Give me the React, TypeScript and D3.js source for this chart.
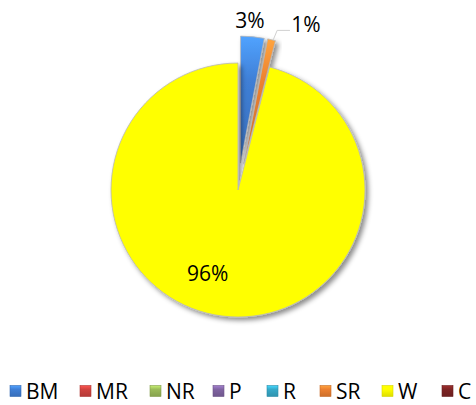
import * as d3 from "d3";
import React, { useRef, useEffect } from "react";

const categories = ["BM", "MR", "NR", "P", "R", "SR", "W", "C"];
const values = [3, 0, 0, 0, 0, 1, 96, 0];
const labels = ["3%", "", "", "", "", "1%", "96%", ""];
const colors = ["#3f7fd6", "#d0433f", "#9bbb59", "#8064a2", "#36a9c9", "#ec8030", "#ffff00", "#7d2424"];

// legend layout (x of each swatch), from the picture
const legendX = [10, 80, 150, 213, 267, 320, 382, 442];

function App() {
    const svgRef = useRef<SVGSVGElement>(null);
    const width = 476;
    const height = 405;
    const cx = 238; // pie centre
    const cy = 190;
    const radius = 127;
    const explode = 27; // pulled-out slices

    useEffect(() => {
        document.body.style.margin = "0";

        const svg = d3.select(svgRef.current)
            .attr("width", width)
            .attr("height", height)
            .attr("viewBox", [0, 0, width, height] as any);

        svg.selectAll("*").remove();

        const defs = svg.append("defs");

        const shadow = defs.append("filter")
            .attr("id", "shadow")
            .attr("x", "-20%").attr("y", "-20%")
            .attr("width", "140%").attr("height", "140%");
        shadow.append("feDropShadow")
            .attr("dx", 3).attr("dy", 3)
            .attr("stdDeviation", 2.5)
            .attr("flood-color", "#000")
            .attr("flood-opacity", 0.45);

        // bevel-like gradients
        colors.forEach((c, i) => {
            const g = defs.append("linearGradient")
                .attr("id", "grad" + i)
                .attr("x1", 0).attr("y1", 0)
                .attr("x2", 0).attr("y2", 1);
            g.append("stop").attr("offset", "0%").attr("stop-color", d3.color(c)!.brighter(0.7).formatHex());
            g.append("stop").attr("offset", "35%").attr("stop-color", c);
            g.append("stop").attr("offset", "100%").attr("stop-color", d3.color(c)!.darker(0.4).formatHex());
        });

        const pie = d3.pie<number>()
            .sort(null)
            .value(d => d);

        const arcs = pie(values);

        const arc = d3.arc<d3.PieArcDatum<number>>()
            .innerRadius(0)
            .outerRadius(radius);

        const offsetOf = (d: d3.PieArcDatum<number>, i: number) => {
            if (categories[i] === "W") return [0, 0];
            const mid = (d.startAngle + d.endAngle) / 2;
            return [explode * Math.sin(mid), -explode * Math.cos(mid)];
        };

        const g = svg.append("g")
            .attr("transform", `translate(${cx}, ${cy})`);

        g.selectAll("path.slice")
            .data(arcs.map((a, i) => ({ a, i })).filter(d => d.a.value > 0))
            .enter()
            .append("path")
            .attr("class", "slice")
            .attr("d", d => arc(d.a))
            .attr("transform", d => {
                const [ox, oy] = offsetOf(d.a, d.i);
                return `translate(${ox}, ${oy})`;
            })
            .attr("fill", d => categories[d.i] === "W" ? colors[d.i] : `url(#grad${d.i})`)
            .attr("stroke", "#b8b8b8")
            .attr("stroke-width", 0.8)
            .attr("filter", "url(#shadow)");

        // data labels: polar position [angle offset in degrees, radius] per slice
        const labelPos: Record<string, [number, number]> = {
            BM: [-1.6, 143],
            SR: [11.5, 152],
            W: [12.8, 89],
        };

        arcs.forEach((d, i) => {
            const p = labelPos[categories[i]];
            if (!p || d.value <= 0) return;
            const [ox, oy] = offsetOf(d, i);
            const mid = (d.startAngle + d.endAngle) / 2 + (p[0] * Math.PI) / 180;
            const lx = ox + p[1] * Math.sin(mid);
            const ly = oy - p[1] * Math.cos(mid);

            if (categories[i] === "SR") {
                // leader line from slice edge to label
                const edge = d.startAngle * 0.3 + d.endAngle * 0.7;
                const ex = ox + radius * Math.sin(edge);
                const ey = oy - radius * Math.cos(edge);
                g.append("path")
                    .attr("d", `M${ex},${ey}L${ex + 4},${ly + 5.5}L${lx - 16},${ly + 5.5}`)
                    .attr("fill", "none")
                    .attr("stroke", "#d0d0d0")
                    .attr("stroke-width", 1);
            }

            g.append("text")
                .text(labels[i])
                .attr("x", lx)
                .attr("y", ly)
                .attr("dy", "0.35em")
                .attr("text-anchor", "middle")
                .style("font-family", "'Open Sans', sans-serif")
                .style("font-size", "21px")
                .style("fill", "#000");
        });

        // legend
        const legend = svg.append("g")
            .attr("transform", `translate(0, 391)`);

        const item = legend.selectAll("g.item")
            .data(categories)
            .enter()
            .append("g")
            .attr("class", "item")
            .attr("transform", (d, i) => `translate(${legendX[i]}, 0)`);

        item.append("rect")
            .attr("x", 0)
            .attr("y", -5.5)
            .attr("width", 11)
            .attr("height", 11)
            .attr("fill", (d, i) => `url(#grad${i})`)
            .attr("stroke", (d, i) => d3.color(colors[i])!.darker(0.5).formatHex())
            .attr("stroke-width", 0.6);

        item.append("text")
            .text(d => d)
            .attr("x", 16)
            .attr("y", 0)
            .attr("dy", "0.36em")
            .style("font-family", "'Open Sans', sans-serif")
            .style("font-size", "21px")
            .style("fill", "#000");
    }, []);

    return (
        <div>
            <svg ref={svgRef}></svg>
        </div>
    );
}

export default App;
